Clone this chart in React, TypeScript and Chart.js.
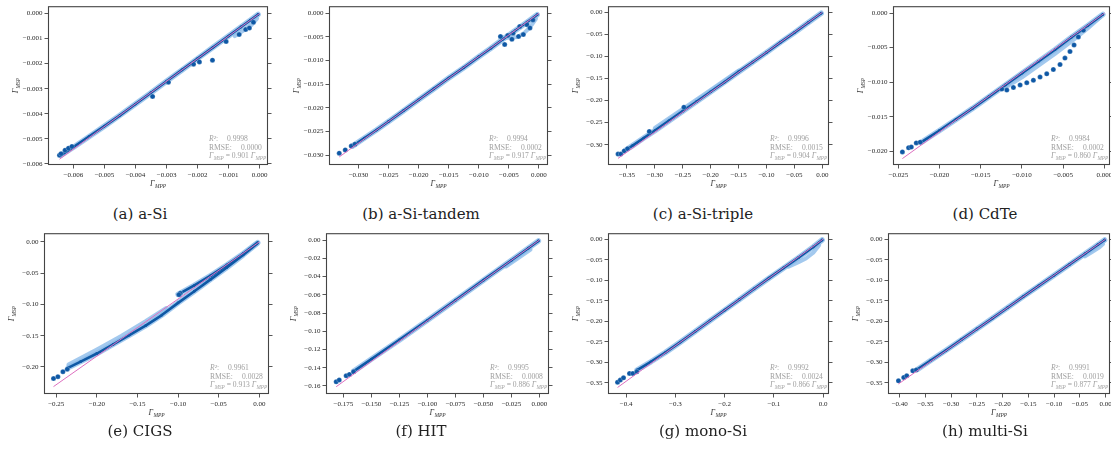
import React, { useEffect, useRef } from "react";
import { Chart, registerables } from "chart.js";
Chart.register(...registerables);

type P = [number, number];

// ---------- texts ----------
const captions = ["(a) a-Si", "(b) a-Si-tandem", "(c) a-Si-triple", "(d) CdTe", "(e) CIGS", "(f) HIT", "(g) mono-Si", "(h) multi-Si"];
const r2Values = ["0.9998", "0.9994", "0.9996", "0.9984", "0.9961", "0.9995", "0.9992", "0.9991"];
const rmseValues = ["0.0000", "0.0002", "0.0015", "0.0002", "0.0028", "0.0008", "0.0024", "0.0019"];
const slopeValues = ["0.901", "0.917", "0.904", "0.860", "0.913", "0.886", "0.866", "0.877"];

// ---------- data (Γ_MPP, Γ_MSP) ----------
const aSiBand: P[] = [[-0.0064, -0.00565], [-0.006, -0.00533], [-0.0055, -0.00491], [-0.005, -0.00449], [-0.0045, -0.00406], [-0.004, -0.00361], [-0.0035, -0.00316], [-0.003, -0.0027], [-0.0025, -0.00225], [-0.002, -0.0018], [-0.0015, -0.00135], [-0.001, -0.0009], [-0.0006, -0.00054], [-0.0003, -0.00027], [-0.00005, -0.00004]];
const aSiSpread: P[] = [[-0.0008, -0.0009], [-0.0005, -0.00066], [-0.00025, -0.00045], [-0.00008, -0.0002]];
const aSiDots: P[] = [[-0.00645, -0.00565], [-0.0064, -0.00559], [-0.00627, -0.00545], [-0.00616, -0.00537], [-0.00605, -0.0053], [-0.00345, -0.00331], [-0.00294, -0.00274], [-0.00213, -0.00202], [-0.00194, -0.00193], [-0.00152, -0.00186], [-0.00108, -0.00112], [-0.00066, -0.00084], [-0.00045, -0.00064], [-0.00033, -0.00058], [-0.0002, -0.00035]];
const aSiFit: P[] = [[-0.00645, -0.00581], [0, 0]];

const tandemBand: P[] = [[-0.031, -0.0281], [-0.029, -0.0264], [-0.027, -0.0247], [-0.025, -0.0229], [-0.0225, -0.0206], [-0.02, -0.0183], [-0.0175, -0.016], [-0.015, -0.0137], [-0.0125, -0.0115], [-0.01, -0.0092], [-0.008, -0.0074], [-0.006, -0.0055], [-0.004, -0.0037], [-0.002, -0.0019], [-0.0003, -0.0003]];
const tandemSpread: P[] = [[-0.0065, -0.005], [-0.005, -0.0052], [-0.0035, -0.005], [-0.0025, -0.0042], [-0.0015, -0.003], [-0.0005, -0.0012]];
const tandemDots: P[] = [[-0.0332, -0.0296], [-0.0322, -0.0289], [-0.0312, -0.0281], [-0.0306, -0.0277], [-0.0064, -0.0049], [-0.0057, -0.0066], [-0.0043, -0.0042], [-0.0034, -0.0049], [-0.0026, -0.0045], [-0.0032, -0.0028], [-0.002, -0.0024], [-0.0015, -0.0031], [-0.001, -0.0014], [-0.0045, -0.0055], [-0.0052, -0.0047]];
const tandemFit: P[] = [[-0.0332, -0.0304], [0, 0]];

const tripleBand: P[] = [[-0.352, -0.312], [-0.34, -0.302], [-0.32, -0.285], [-0.3, -0.268], [-0.275, -0.246], [-0.25, -0.224], [-0.225, -0.202], [-0.2, -0.18], [-0.175, -0.158], [-0.15, -0.135], [-0.125, -0.113], [-0.1, -0.091], [-0.075, -0.068], [-0.05, -0.046], [-0.025, -0.023], [-0.002, -0.002]];
const tripleSpread: P[] = [[-0.3, -0.262], [-0.25, -0.219], [-0.2, -0.176], [-0.15, -0.132]];
const tripleDots: P[] = [[-0.366, -0.321], [-0.361, -0.321], [-0.355, -0.314], [-0.349, -0.309], [-0.248, -0.215], [-0.31, -0.27]];
const tripleFit: P[] = [[-0.366, -0.331], [0, 0]];

const cdteBand: P[] = [[-0.0222, -0.0187], [-0.02, -0.017], [-0.018, -0.0154], [-0.016, -0.0138], [-0.014, -0.0121], [-0.012, -0.0104], [-0.01, -0.0087], [-0.008, -0.007], [-0.006, -0.0053], [-0.004, -0.0035], [-0.002, -0.0018], [-0.0002, -0.0002]];
const cdteSpread: P[] = [[-0.012, -0.0108], [-0.01, -0.0093], [-0.008, -0.0076], [-0.006, -0.0059], [-0.004, -0.0041], [-0.002, -0.0022], [-0.0005, -0.0006]];
const cdteDots: P[] = [[-0.0245, -0.0201], [-0.02375, -0.0195], [-0.02342, -0.0194], [-0.02282, -0.0188], [-0.02234, -0.0187], [-0.01245, -0.011], [-0.01184, -0.01115], [-0.01104, -0.01078], [-0.01023, -0.0104], [-0.00942, -0.01007], [-0.00862, -0.00973], [-0.00781, -0.00926], [-0.007, -0.0088], [-0.0062, -0.00817], [-0.00539, -0.00746], [-0.00479, -0.00652], [-0.00418, -0.00557], [-0.00369, -0.00462], [-0.00317, -0.00345], [-0.00256, -0.0025]];
const cdteFit: P[] = [[-0.0245, -0.02107], [0, 0]];

const cigsBand: P[] = [[-0.235, -0.201], [-0.22, -0.1915], [-0.2, -0.1785], [-0.18, -0.164], [-0.16, -0.149], [-0.14, -0.134], [-0.12, -0.117], [-0.1, -0.0975], [-0.08, -0.079], [-0.06, -0.06], [-0.04, -0.041], [-0.02, -0.021], [-0.003, -0.003]];
const cigsUpper: P[] = [[-0.1, -0.084], [-0.08, -0.0695], [-0.06, -0.054], [-0.04, -0.037], [-0.02, -0.019], [-0.002, -0.0012]];
const cigsSpread: P[] = [[-0.235, -0.196], [-0.2, -0.172], [-0.17, -0.1505], [-0.14, -0.127], [-0.115, -0.106]];
const cigsDots: P[] = [[-0.2534, -0.2186], [-0.248, -0.2155], [-0.2418, -0.2076], [-0.2365, -0.2035], [-0.0973, -0.0823], [-0.099, -0.0845]];
const cigsFit: P[] = [[-0.2534, -0.2314], [0, 0]];

const hitBand: P[] = [[-0.166, -0.144], [-0.15, -0.1305], [-0.125, -0.1095], [-0.1, -0.088], [-0.075, -0.066], [-0.05, -0.044], [-0.025, -0.0222], [-0.01, -0.009], [-0.001, -0.001]];
const hitSpread: P[] = [[-0.03, -0.029], [-0.018, -0.019], [-0.008, -0.0105]];
const hitDots: P[] = [[-0.1815, -0.1554], [-0.1788, -0.1535], [-0.1726, -0.1488], [-0.1697, -0.1473], [-0.166, -0.1445]];
const hitFit: P[] = [[-0.1815, -0.1608], [0, 0]];

const monoBand: P[] = [[-0.378, -0.319], [-0.35, -0.299], [-0.32, -0.276], [-0.29, -0.251], [-0.26, -0.225], [-0.23, -0.199], [-0.2, -0.173], [-0.17, -0.147], [-0.14, -0.121], [-0.11, -0.095], [-0.08, -0.07], [-0.05, -0.045], [-0.02, -0.019], [-0.002, -0.002]];
const monoSpread: P[] = [[-0.07, -0.067], [-0.05, -0.056], [-0.035, -0.047], [-0.02, -0.033], [-0.008, -0.015]];
const monoDots: P[] = [[-0.4176, -0.349], [-0.412, -0.3436], [-0.4055, -0.338], [-0.3933, -0.3273], [-0.3865, -0.3273], [-0.3785, -0.3233]];
const monoFit: P[] = [[-0.4176, -0.3616], [0, 0]];

const multiBand: P[] = [[-0.365, -0.317], [-0.34, -0.296], [-0.31, -0.271], [-0.28, -0.245], [-0.25, -0.219], [-0.22, -0.193], [-0.19, -0.1665], [-0.16, -0.14], [-0.13, -0.114], [-0.1, -0.088], [-0.07, -0.0615], [-0.04, -0.0355], [-0.015, -0.0135], [-0.002, -0.002]];
const multiSpread: P[] = [[-0.04, -0.042], [-0.025, -0.03], [-0.012, -0.02], [-0.005, -0.012]];
const multiDots: P[] = [[-0.4025, -0.3453], [-0.3922, -0.337], [-0.3864, -0.333], [-0.3747, -0.321], [-0.368, -0.319]];
const multiFit: P[] = [[-0.4025, -0.353], [0, 0]];

const panelData = [
  { cores: [aSiBand], lights: [aSiSpread], dots: aSiDots, fit: aSiFit },
  { cores: [tandemBand], lights: [tandemSpread], dots: tandemDots, fit: tandemFit },
  { cores: [tripleBand], lights: [tripleSpread], dots: tripleDots, fit: tripleFit },
  { cores: [cdteBand], lights: [cdteSpread], dots: cdteDots, fit: cdteFit },
  { cores: [cigsBand, cigsUpper], lights: [cigsSpread], dots: cigsDots, fit: cigsFit },
  { cores: [hitBand], lights: [hitSpread], dots: hitDots, fit: hitFit },
  { cores: [monoBand], lights: [monoSpread], dots: monoDots, fit: monoFit },
  { cores: [multiBand], lights: [multiSpread], dots: multiDots, fit: multiFit },
];

// ---------- layout / axes ----------
const layouts = [
  { L: 48, R: 268, T: 5, B: 165, xMin: -0.00682, xMax: 0.00027, yMin: -0.00604, yMax: 0.00029, xStep: 0.001, yStep: 0.001, xDec: 3, yDec: 3, capX: 140, capY: 214 },
  { L: 329, R: 548, T: 5, B: 165, xMin: -0.0349, xMax: 0.0015, yMin: -0.0321, yMax: 0.0015, xStep: 0.005, yStep: 0.005, xDec: 3, yDec: 3, capX: 421, capY: 214 },
  { L: 608, R: 829, T: 5, B: 165, xMin: -0.384, xMax: 0.012, yMin: -0.346, yMax: 0.014, xStep: 0.05, yStep: 0.05, xDec: 2, yDec: 2, capX: 703, capY: 214 },
  { L: 893, R: 1110, T: 5, B: 165, xMin: -0.02564, xMax: 0.00067, yMin: -0.022, yMax: 0.001, xStep: 0.005, yStep: 0.005, xDec: 3, yDec: 3, capX: 985, capY: 214 },
  { L: 44, R: 269, T: 232, B: 394, xMin: -0.2651, xMax: 0.0119, yMin: -0.2432, yMax: 0.0138, xStep: 0.05, yStep: 0.05, xDec: 2, yDec: 2, capX: 140, capY: 431 },
  { L: 326, R: 549, T: 232, B: 394, xMin: -0.1906, xMax: 0.0085, yMin: -0.1688, yMax: 0.0075, xStep: 0.025, yStep: 0.02, xDec: 3, yDec: 2, capX: 421, capY: 431 },
  { L: 608, R: 829, T: 232, B: 394, xMin: -0.437, xMax: 0.012, yMin: -0.3775, yMax: 0.0146, xStep: 0.1, yStep: 0.05, xDec: 1, yDec: 2, capX: 703, capY: 431 },
  { L: 888, R: 1110, T: 232, B: 394, xMin: -0.4228, xMax: 0.0085, yMin: -0.3775, yMax: 0.0146, xStep: 0.05, yStep: 0.05, xDec: 2, yDec: 2, capX: 985, capY: 431 },
];

const PAD_L = 46, PAD_R = 8, PAD_T = 5, PAD_B = 32;
const SERIF = '"Liberation Serif", "DejaVu Serif", serif';
const DARK = "#0e58a5";
const LIGHT = "rgba(140,188,234,0.8)";
const PINK = "#dd6fbf";

function fmt(v: number, dec: number, step: number) {
  if (Math.abs(v) < step * 1e-6) v = 0;
  return v.toFixed(dec).replace("-", "\u2212");
}
const toXY = (arr: P[]) => arr.map(([x, y]) => ({ x, y }));

function drawGamma(ctx: CanvasRenderingContext2D, x: number, y: number, sub: string, size: number, align: "left" | "center") {
  const mainFont = `italic ${size}px ${SERIF}`;
  const subFont = `italic ${(size * 0.68).toFixed(2)}px ${SERIF}`;
  ctx.font = mainFont;
  const w1 = ctx.measureText("\u0393").width;
  ctx.font = subFont;
  const w2 = ctx.measureText(sub).width;
  const total = w1 + 0.4 + w2;
  const x0 = align === "center" ? x - total / 2 : x;
  ctx.textAlign = "left";
  ctx.textBaseline = "alphabetic";
  ctx.font = mainFont;
  ctx.fillText("\u0393", x0, y);
  ctx.font = subFont;
  ctx.fillText(sub, x0 + w1 + 0.4, y + size * 0.25);
  return total;
}

function makeDecor(i: number) {
  return {
    id: "decor" + i,
    afterDraw(chart: any) {
      const ctx: CanvasRenderingContext2D = chart.ctx;
      const a = chart.chartArea;
      ctx.save();
      ctx.strokeStyle = "#444";
      ctx.lineWidth = 1.1;
      ctx.strokeRect(a.left + 0.5, a.top + 0.5, a.right - a.left - 1, a.bottom - a.top - 1);
      // axis titles
      ctx.fillStyle = "#333";
      drawGamma(ctx, (a.left + a.right) / 2, a.bottom + 20.5, "MPP", 8, "center");
      ctx.save();
      ctx.translate(a.left - 30.5, (a.top + a.bottom) / 2);
      ctx.rotate(-Math.PI / 2);
      drawGamma(ctx, 0, 0, "MSP", 8, "center");
      ctx.restore();
      // stats
      const sx = a.right - 59;
      const fs = 7.6;
      ctx.fillStyle = "#a0a0a0";
      ctx.textAlign = "left";
      ctx.textBaseline = "alphabetic";
      ctx.font = `italic ${fs}px ${SERIF}`;
      ctx.fillText("R\u00b2", sx, a.bottom - 24.5);
      const wr = ctx.measureText("R\u00b2").width;
      ctx.font = `${fs}px ${SERIF}`;
      ctx.fillText(":", sx + wr, a.bottom - 24.5);
      ctx.fillText(r2Values[i], sx + 18, a.bottom - 24.5);
      ctx.fillText("RMSE:", sx, a.bottom - 15.5);
      ctx.fillText(rmseValues[i], sx + 32, a.bottom - 15.5);
      let cx = sx;
      cx += drawGamma(ctx, cx, a.bottom - 7.2, "MSP", fs, "left");
      ctx.font = `${fs}px ${SERIF}`;
      const mid = " = " + slopeValues[i] + " ";
      ctx.fillText(mid, cx, a.bottom - 7.2);
      cx += ctx.measureText(mid).width;
      drawGamma(ctx, cx, a.bottom - 7.2, "MPP", fs, "left");
      ctx.restore();
    },
  };
}

function buildConfig(i: number): any {
  const d = panelData[i];
  const g = layouts[i];
  const datasets: any[] = [];
  datasets.push({ data: toXY(d.fit), showLine: true, borderColor: PINK, borderWidth: 1, pointRadius: 0, order: 0 });
  datasets.push({ data: toXY(d.dots), showLine: false, pointRadius: 2.5, pointBackgroundColor: DARK, pointBorderColor: "rgba(255,255,255,0.6)", pointBorderWidth: 0.4, order: 1 });
  d.cores.forEach((c) => {
    datasets.push({ data: toXY(c), showLine: true, borderColor: DARK, borderWidth: 2.6, pointRadius: 1.4, pointBackgroundColor: DARK, pointBorderWidth: 0, borderCapStyle: "round", borderJoinStyle: "round", order: 2 });
    datasets.push({ data: toXY(c), showLine: true, borderColor: LIGHT, borderWidth: 5.5, pointRadius: 0, borderCapStyle: "round", borderJoinStyle: "round", order: 4 });
  });
  d.lights.forEach((c) => {
    datasets.push({ data: toXY(c), showLine: true, borderColor: LIGHT, borderWidth: 4, pointRadius: 0, borderCapStyle: "round", borderJoinStyle: "round", order: 3 });
  });
  const ticks = (dec: number, step: number) => ({
    stepSize: step,
    includeBounds: false,
    autoSkip: false,
    maxRotation: 0,
    minRotation: 0,
    color: "#262626",
    font: { family: SERIF, size: 7 },
    padding: 2,
    callback: (v: any) => fmt(Number(v), dec, step),
  });
  const grid = { drawOnChartArea: false, drawTicks: true, tickLength: 3.5, color: "#444", lineWidth: 0.9 };
  return {
    type: "scatter",
    data: { datasets },
    options: {
      animation: false,
      responsive: false,
      devicePixelRatio: 1,
      events: [],
      layout: { autoPadding: false, padding: { top: PAD_T, left: 0, right: 0, bottom: 0 } },
      plugins: { legend: { display: false }, tooltip: { enabled: false } },
      elements: { line: { tension: 0 } },
      scales: {
        x: { type: "linear", position: "bottom", min: g.xMin, max: g.xMax, ticks: ticks(g.xDec, g.xStep), grid, border: { display: false }, afterFit: (s: any) => { s.height = PAD_B; } },
        y: { type: "linear", position: "left", min: g.yMin, max: g.yMax, ticks: ticks(g.yDec, g.yStep), grid, border: { display: false }, afterFit: (s: any) => { s.width = PAD_L; } },
        y2: { type: "linear", position: "right", min: g.yMin, max: g.yMax, ticks: { ...ticks(g.yDec, g.yStep), display: false }, grid, border: { display: false }, afterFit: (s: any) => { s.width = PAD_R; } },
      },
    },
    plugins: [makeDecor(i)],
  };
}

function Panel({ index }: { index: number }) {
  const ref = useRef<HTMLCanvasElement>(null);
  const g = layouts[index];
  const w = PAD_L + (g.R - g.L) + PAD_R;
  const h = PAD_T + (g.B - g.T) + PAD_B;
  useEffect(() => {
    const chart = new Chart(ref.current as HTMLCanvasElement, buildConfig(index));
    return () => chart.destroy();
  }, [index]);
  return (
    <>
      <canvas ref={ref} width={w} height={h} style={{ position: "absolute", left: g.L - PAD_L, top: g.T - PAD_T, width: w, height: h }} />
      <div style={{ position: "absolute", left: g.capX, top: g.capY - 10, transform: "translateX(-50%)", whiteSpace: "nowrap", font: '15px "DejaVu Serif", serif', color: "#222", lineHeight: "20px" }}>
        {captions[index]}
      </div>
    </>
  );
}

export default function App() {
  return (
    <div style={{ position: "absolute", left: 0, top: 0, width: 1111, height: 457, overflow: "hidden", background: "#fff" }}>
      {layouts.map((_, i) => (
        <Panel key={i} index={i} />
      ))}
    </div>
  );
}
